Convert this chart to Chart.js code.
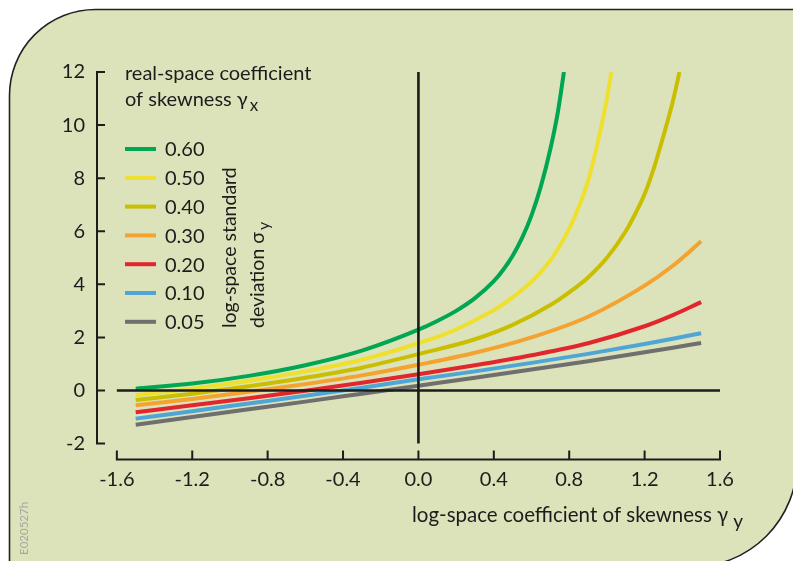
<!DOCTYPE html>
<html><head><meta charset="utf-8">
<script src="https://cdn.jsdelivr.net/npm/chart.js@4.4.0/dist/chart.umd.min.js"></script>
<style>html,body{margin:0;padding:0;background:#fff}canvas{display:block}</style>
</head><body>
<canvas id="c" width="793" height="561"></canvas>
<script>
// ---- data ----
const xTicks = [-1.6, -1.2, -0.8, -0.4, 0.0, 0.4, 0.8, 1.2, 1.6];
const yTicks = [-2, 0, 2, 4, 6, 8, 10, 12];
const seriesLabels = ['0.60', '0.50', '0.40', '0.30', '0.20', '0.10', '0.05'];
const seriesColors = ['#00a651', '#efdf2e', '#c9bf00', '#f4a331', '#e2262e', '#4fa6d6', '#6f6f6f'];

const gammaCommon = [-1.5, -1.2, -0.9, -0.6, -0.3, 0, 0.3, 0.6, 0.9, 1.2, 1.35, 1.5];

const s060x = [-1.5, -1.2, -0.9, -0.6, -0.3, 0, 0.1, 0.2, 0.3, 0.4, 0.45, 0.5, 0.55, 0.6, 0.65, 0.7, 0.74, 0.772];
const s060y = [0.07, 0.26, 0.55, 0.95, 1.50, 2.29, 2.62, 3.0, 3.48, 4.12, 4.55, 5.08, 5.75, 6.6, 7.7, 9.1, 10.5, 12];
const s050x = [-1.5, -1.2, -0.9, -0.6, -0.3, 0, 0.15, 0.3, 0.45, 0.6, 0.65, 0.7, 0.75, 0.8, 0.85, 0.9, 0.95, 1.0, 1.024];
const s050y = [-0.18, 0.07, 0.37, 0.72, 1.16, 1.78, 2.15, 2.65, 3.25, 4.1, 4.47, 4.9, 5.45, 6.1, 6.9, 7.9, 9.3, 11.0, 12];
const s040x = [-1.5, -1.2, -0.9, -0.6, -0.3, 0, 0.3, 0.5, 0.7, 0.8, 0.9, 1.0, 1.1, 1.15, 1.2, 1.25, 1.3, 1.35, 1.385];
const s040y = [-0.36, -0.12, 0.16, 0.48, 0.86, 1.37, 1.93, 2.47, 3.22, 3.7, 4.26, 5.0, 6.0, 6.65, 7.4, 8.4, 9.6, 10.9, 12];
const s030y = [-0.56, -0.32, -0.05, 0.24, 0.57, 0.97, 1.42, 2.0, 2.78, 3.95, 4.7, 5.62];
const s020y = [-0.82, -0.56, -0.29, -0.01, 0.29, 0.61, 0.95, 1.33, 1.78, 2.42, 2.84, 3.33];
const s010y = [-1.06, -0.78, -0.49, -0.20, 0.10, 0.42, 0.72, 1.04, 1.38, 1.75, 1.95, 2.16];
const s005y = [-1.29, -1.0, -0.71, -0.42, -0.12, 0.18, 0.48, 0.79, 1.10, 1.44, 1.61, 1.79];

const seriesX = [s060x, s050x, s040x, gammaCommon, gammaCommon, gammaCommon, gammaCommon];
const seriesY = [s060y, s050y, s040y, s030y, s020y, s010y, s005y];

const FONT = 'Lato';
const INK = '#1c1c1c';

const bgPlugin = {
  id: 'bg',
  beforeDraw(chart) {
    const ctx = chart.ctx;
    ctx.save();
    ctx.fillStyle = '#ffffff';
    ctx.fillRect(0, 0, chart.width, chart.height);
    const L = 9.5, T = 9.5, R = 797, B = 567, r1 = 86, r2 = 105;
    ctx.beginPath();
    ctx.moveTo(L + r1, T);
    ctx.lineTo(R, T);
    ctx.lineTo(R, B - r2);
    ctx.arcTo(R, B, R - r2, B, r2);
    ctx.lineTo(L, B);
    ctx.lineTo(L, T + r1);
    ctx.arcTo(L, T, L + r1, T, r1);
    ctx.closePath();
    ctx.fillStyle = '#dce3ba';
    ctx.fill();
    ctx.lineWidth = 1.6;
    ctx.strokeStyle = '#222';
    ctx.stroke();
    ctx.restore();
  }
};

const axesPlugin = {
  id: 'axesLines',
  afterDatasetsDraw(chart) {
    const ctx = chart.ctx;
    const xs = chart.scales.x, ys = chart.scales.y;
    const area = chart.chartArea;
    ctx.save();
    ctx.strokeStyle = INK;
    ctx.lineCap = 'butt';
    // zero reference lines
    ctx.lineWidth = 2.6;
    ctx.beginPath();
    ctx.moveTo(xs.getPixelForValue(xTicks[0]), ys.getPixelForValue(0));
    ctx.lineTo(xs.getPixelForValue(xTicks[xTicks.length - 1]), ys.getPixelForValue(0));
    ctx.moveTo(xs.getPixelForValue(0), ys.getPixelForValue(yTicks[yTicks.length - 1]));
    ctx.lineTo(xs.getPixelForValue(0), ys.getPixelForValue(yTicks[0]));
    ctx.stroke();
    // y axis line with inward ticks
    ctx.lineWidth = 2;
    const ax = area.left - 1;
    ctx.beginPath();
    ctx.moveTo(ax, ys.getPixelForValue(yTicks[yTicks.length - 1]) - 1);
    ctx.lineTo(ax, ys.getPixelForValue(yTicks[0]) + 1);
    yTicks.forEach(v => {
      const py = ys.getPixelForValue(v);
      ctx.moveTo(ax, py); ctx.lineTo(ax + 8, py);
    });
    // x axis line with inward ticks
    const ay = area.bottom;
    ctx.moveTo(xs.getPixelForValue(xTicks[0]) - 1, ay);
    ctx.lineTo(xs.getPixelForValue(xTicks[xTicks.length - 1]) + 1, ay);
    xTicks.forEach(v => {
      const px = xs.getPixelForValue(v);
      ctx.moveTo(px, ay); ctx.lineTo(px, ay - 9);
    });
    ctx.stroke();
    ctx.restore();
  },
  afterDraw(chart) {
    const ctx = chart.ctx;
    ctx.save();
    ctx.fillStyle = INK;
    ctx.textAlign = 'left';
    ctx.textBaseline = 'alphabetic';
    // legend title
    ctx.font = '20px ' + FONT;
    ctx.fillText('real-space coefficient', 125, 80);
    ctx.fillText('of skewness \u03b3', 125, 106);
    let w = ctx.measureText('of skewness \u03b3').width;
    ctx.font = '17px ' + FONT;
    ctx.fillText('x', 125 + w + 2, 111);
    // legend items
    ctx.font = '20px ' + FONT;
    ctx.textBaseline = 'middle';
    chart.data.datasets.forEach((ds, i) => {
      const y = 149 + i * 28.8;
      ctx.strokeStyle = ds.borderColor;
      ctx.lineWidth = 4;
      ctx.beginPath(); ctx.moveTo(125, y); ctx.lineTo(156, y); ctx.stroke();
      ctx.fillText(ds.label, 165, y + 1);
    });
    // rotated legend label
    ctx.textBaseline = 'alphabetic';
    ctx.save();
    ctx.translate(236, 328); ctx.rotate(-Math.PI / 2);
    ctx.font = '19.5px ' + FONT;
    ctx.fillText('log-space standard', 0, 0);
    ctx.restore();
    ctx.save();
    ctx.translate(264, 328); ctx.rotate(-Math.PI / 2);
    ctx.font = '19.5px ' + FONT;
    ctx.fillText('deviation \u03c3', 0, 0);
    w = ctx.measureText('deviation \u03c3').width;
    ctx.font = '16px ' + FONT;
    ctx.fillText('y', w + 2, 5);
    ctx.restore();
    // x axis title
    ctx.font = '20.5px ' + FONT;
    ctx.fillText('log-space coefficient of skewness \u03b3', 412, 522);
    w = ctx.measureText('log-space coefficient of skewness \u03b3').width;
    ctx.font = '19px ' + FONT;
    ctx.fillText('y', 412 + w + 5, 528);
    // figure id
    ctx.save();
    ctx.translate(28, 555); ctx.rotate(-Math.PI / 2);
    ctx.font = '11.5px ' + FONT;
    ctx.fillStyle = '#a5a8a0';
    ctx.fillText('E020527h', 0, 0);
    ctx.restore();
    ctx.restore();
  }
};

function makeChart() {
  const datasets = seriesLabels.map((lab, i) => ({
    label: lab,
    data: seriesX[i].map((x, j) => ({ x: x, y: seriesY[i][j] })),
    borderColor: seriesColors[i],
    backgroundColor: seriesColors[i],
    borderWidth: 4,
    pointRadius: 0,
    fill: false,
    cubicInterpolationMode: 'monotone'
  }));
  new Chart(document.getElementById('c'), {
    type: 'line',
    data: { datasets: datasets },
    options: {
      responsive: false,
      animation: false,
      devicePixelRatio: 1,
      layout: { padding: { left: 0, top: 72, right: 73, bottom: 0 } },
      plugins: { legend: { display: false }, tooltip: { enabled: false } },
      scales: {
        x: {
          type: 'linear', min: -1.7, max: 1.6,
          grid: { display: false, drawTicks: false },
          border: { display: false },
          afterBuildTicks: s => { s.ticks = xTicks.map(v => ({ value: v })); },
          afterFit: s => { s.height = 101.5; },
          ticks: {
            padding: 8, color: INK,
            font: { family: FONT, size: 20 },
            callback: v => v.toFixed(1)
          }
        },
        y: {
          type: 'linear', min: -2.6, max: 12,
          grid: { display: false, drawTicks: false },
          border: { display: false },
          afterBuildTicks: s => { s.ticks = yTicks.map(v => ({ value: v })); },
          afterFit: s => { s.width = 98; },
          ticks: {
            padding: 13, color: INK,
            font: { family: FONT, size: 20 },
            callback: v => String(v)
          }
        }
      }
    },
    plugins: [bgPlugin, axesPlugin]
  });
}
if (document.fonts && document.fonts.load) {
  document.fonts.load('20px ' + FONT).then(makeChart, makeChart);
} else { makeChart(); }
</script>
</body></html>
